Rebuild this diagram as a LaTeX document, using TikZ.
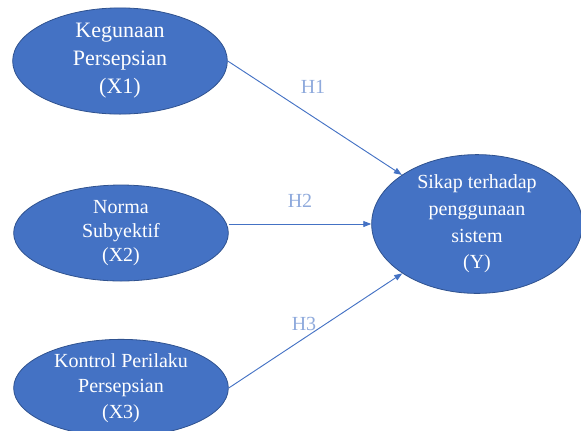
\documentclass[tikz,border=0pt]{standalone}
\usepackage{fontspec}
\setmainfont{Liberation Serif}
\usetikzlibrary{shapes, arrows.meta, positioning}
\definecolor{ovalblue}{HTML}{4472C4}
\definecolor{ovalline}{HTML}{2F528F}
\definecolor{hlabel}{HTML}{8FAADC}

\begin{document}
\begin{tikzpicture}[x=0.75pt, y=-0.75pt,
    var/.style={ellipse, draw=ovalline, fill=ovalblue, line width=0.6pt, text=white, align=center, inner sep=0pt, minimum width=161pt, minimum height=72pt, font=\fontsize{15}{19}\selectfont},
    hyp/.style={draw=ovalblue, line width=0.7pt, -{Triangle[length=6pt, width=4.5pt]}},
    hlab/.style={text=hlabel, font=\fontsize{15}{18}\selectfont}]
    \useasboundingbox (0,0) rectangle (581,430);
    \node [var, font=\fontsize{16.5}{21}\selectfont] (x1) at (120,61) {Kegunaan\\Persepsian\\(X1)};
    \node [var, font=\fontsize{15}{18}\selectfont] (x2) at (121,233) {Norma\\Subyektif\\(X2)};
    \node [var] (x3) at (121,388) {Kontrol Perilaku\\Persepsian\\(X3)};
    \node [var, minimum width=158pt, minimum height=99pt, font=\fontsize{15}{20}\selectfont] (y) at (477,224) {Sikap terhadap\\penggunaan\\sistem\\(Y)};
    \draw [hyp] (x1.east) -- (y);
    \draw [hyp] (x2.east |- y.west) -- (y.west);
    \draw [hyp] (x3.east) -- (y);
    \node [hlab] (h1) at (313,87) {H1};
    \node [hlab] (h2) at (300,201) {H2};
    \node [hlab] (h3) at (304,324) {H3};
\end{tikzpicture}
\end{document}
